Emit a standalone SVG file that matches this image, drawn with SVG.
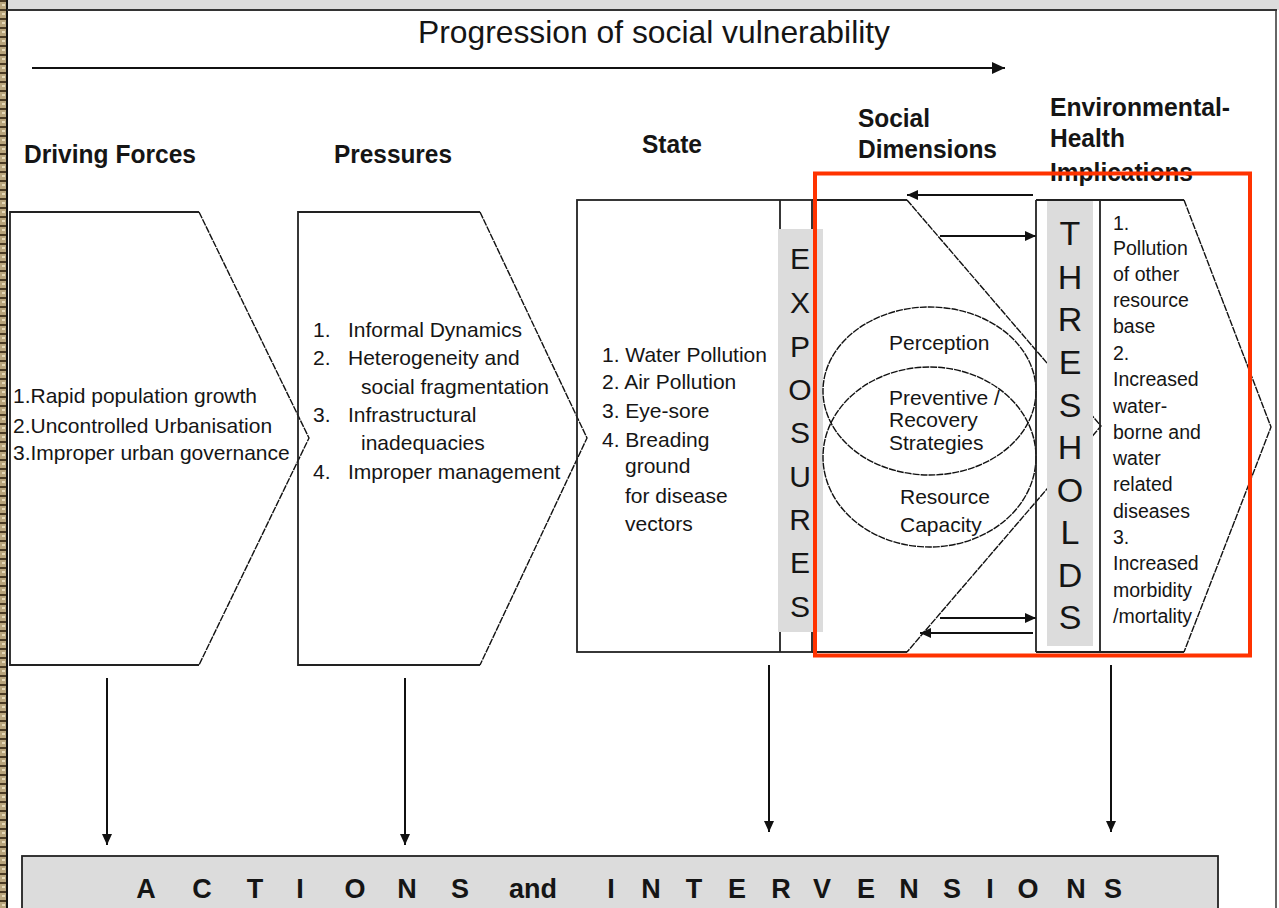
<svg xmlns="http://www.w3.org/2000/svg" width="1279" height="908" viewBox="0 0 1279 908">
<defs>
<style>
.t{font-family:"Liberation Sans",Arial,sans-serif;fill:#151515}
.b{font-weight:bold;font-size:26px}
.n{font-size:21px}
.s{font-size:19.5px}
.ln{fill:none;stroke:#222;stroke-width:1.8}
.dg{fill:none;stroke:#111;stroke-width:1.4;stroke-dasharray:7 1}
.el{fill:none;stroke:#111;stroke-width:1.4;stroke-dasharray:7 1}
.band{fill:#dcdcdc;stroke:none}
.ar{stroke:#111;stroke-width:2;fill:none}
</style>
<marker id="ah" markerUnits="userSpaceOnUse" markerWidth="14" markerHeight="12" refX="13" refY="6" orient="auto">
<path d="M0,0 L13,6 L0,12 z" fill="#111"/>
</marker>
<marker id="ahs" markerUnits="userSpaceOnUse" markerWidth="12" markerHeight="12" refX="11" refY="5" orient="auto">
<path d="M0,0 L11,5 L0,10 z" fill="#111"/>
</marker>
<pattern id="strip" patternUnits="userSpaceOnUse" width="7" height="9">
<rect width="7" height="9" fill="#b9a57c"/>
<rect x="0" y="0" width="7" height="2" fill="#4a3a22"/>
<rect x="2" y="4" width="3" height="2" fill="#e6d9b8"/>
</pattern>
</defs>

<!-- frame -->
<rect x="0" y="0" width="1279" height="908" fill="#fff"/>
<rect x="0" y="0" width="1279" height="10" fill="#dcdcdc"/>
<rect x="0" y="0" width="6" height="908" fill="url(#strip)"/>
<line x1="7" y1="0" x2="7" y2="908" stroke="#111" stroke-width="2"/>
<line x1="7" y1="10" x2="1277" y2="10" stroke="#333" stroke-width="2"/>
<line x1="1276" y1="10" x2="1276" y2="908" stroke="#333" stroke-width="1.5"/>

<!-- title -->
<text class="t" x="418" y="43" font-size="32" textLength="472" lengthAdjust="spacingAndGlyphs">Progression of social vulnerability</text>

<g id="connectors">
<line class="ar" x1="32" y1="68" x2="1005" y2="68" marker-end="url(#ah)"/>
<line class="ar" x1="107" y1="678" x2="107" y2="845" marker-end="url(#ahs)"/>
<line class="ar" x1="405" y1="678" x2="405" y2="845" marker-end="url(#ahs)"/>
<line class="ar" x1="769" y1="665" x2="769" y2="832" marker-end="url(#ahs)"/>
<line class="ar" x1="1111" y1="665" x2="1111" y2="832" marker-end="url(#ahs)"/>
<line class="ar" x1="1033" y1="195" x2="907" y2="195" marker-end="url(#ahs)"/>
<line class="ar" x1="940" y1="236" x2="1036" y2="236" marker-end="url(#ahs)"/>
<line class="ar" x1="940" y1="618" x2="1036" y2="618" marker-end="url(#ahs)"/>
<line class="ar" x1="1033" y1="633" x2="920" y2="633" marker-end="url(#ahs)"/>
</g>

<g id="driving-forces">
<text class="t b" x="24" y="163" textLength="172" lengthAdjust="spacingAndGlyphs">Driving Forces</text>
<path class="ln" d="M199,212 H10 V665 H199"/>
<path class="dg" d="M199,212 L309,438 L199,665"/>
<text class="t n" x="13" y="403">1.Rapid population growth</text>
<text class="t n" x="13" y="433">2.Uncontrolled Urbanisation</text>
<text class="t n" x="13" y="460">3.Improper urban governance</text>
</g>

<g id="pressures">
<text class="t b" x="334" y="163" textLength="118" lengthAdjust="spacingAndGlyphs">Pressures</text>
<path class="ln" d="M480,212 H298 V665 H480"/>
<path class="dg" d="M480,212 L587,438 L480,665"/>
<text class="t n" x="313" y="337">1.</text>
<text class="t n" x="348" y="337">Informal Dynamics</text>
<text class="t n" x="313" y="365">2.</text>
<text class="t n" x="348" y="365">Heterogeneity and</text>
<text class="t n" x="361" y="394">social fragmentation</text>
<text class="t n" x="313" y="422">3.</text>
<text class="t n" x="348" y="422">Infrastructural</text>
<text class="t n" x="361" y="450">inadequacies</text>
<text class="t n" x="313" y="479">4.</text>
<text class="t n" x="348" y="479">Improper management</text>
</g>

<g id="state">
<text class="t b" x="642" y="153" textLength="60" lengthAdjust="spacingAndGlyphs">State</text>
<rect class="ln" x="577" y="200" width="235" height="452"/>
<line class="ln" x1="780" y1="200" x2="780" y2="652"/>
<text class="t n" x="602" y="362">1. Water Pollution</text>
<text class="t n" x="602" y="389">2. Air Pollution</text>
<text class="t n" x="602" y="418">3. Eye-sore</text>
<text class="t n" x="602" y="447">4. Breading</text>
<text class="t n" x="625" y="473">ground</text>
<text class="t n" x="625" y="503">for disease</text>
<text class="t n" x="625" y="531">vectors</text>
</g>

<g id="exposures">
<rect class="band" x="778" y="229" width="45" height="403"/>
<g class="t" font-size="30" text-anchor="middle">
<text x="800" y="269">E</text>
<text x="800" y="313">X</text>
<text x="800" y="357">P</text>
<text x="800" y="400">O</text>
<text x="800" y="443">S</text>
<text x="800" y="487">U</text>
<text x="800" y="530">R</text>
<text x="800" y="573">E</text>
<text x="800" y="617">S</text>
</g>
</g>

<g id="social-dimensions">
<text class="t b" x="858" y="127" textLength="72" lengthAdjust="spacingAndGlyphs">Social</text>
<text class="t b" x="858" y="158" textLength="139" lengthAdjust="spacingAndGlyphs">Dimensions</text>
<path class="ln" d="M812,200 H907 M812,652 H907"/>
<path class="dg" d="M907,200 L1101,426 L907,652"/>
<ellipse class="el" cx="929.5" cy="391" rx="106.5" ry="84"/>
<ellipse class="el" cx="929.5" cy="457" rx="106.5" ry="90"/>
<text class="t n" x="889" y="350">Perception</text>
<text class="t n" x="889" y="405">Preventive /</text>
<text class="t n" x="889" y="427">Recovery</text>
<text class="t n" x="889" y="450">Strategies</text>
<text class="t n" x="900" y="504">Resource</text>
<text class="t n" x="900" y="532">Capacity</text>
</g>

<g id="thresholds">
<rect class="band" x="1047" y="201" width="46" height="445"/>
<path class="ln" d="M1036,200 V652"/>
<g class="t" font-size="34" text-anchor="middle">
<text x="1070" y="245">T</text>
<text x="1070" y="289">H</text>
<text x="1070" y="331">R</text>
<text x="1070" y="374">E</text>
<text x="1070" y="417">S</text>
<text x="1070" y="459">H</text>
<text x="1070" y="502">O</text>
<text x="1070" y="544">L</text>
<text x="1070" y="587">D</text>
<text x="1070" y="629">S</text>
</g>
</g>

<g id="environmental-health">
<text class="t b" x="1050" y="116" textLength="180" lengthAdjust="spacingAndGlyphs">Environmental-</text>
<text class="t b" x="1050" y="147" textLength="75" lengthAdjust="spacingAndGlyphs">Health</text>
<text class="t b" x="1050" y="181" textLength="143" lengthAdjust="spacingAndGlyphs">Implications</text>
<path class="ln" d="M1184,200 H1036 M1184,652 H1036 M1100,200 V652"/>
<path class="dg" d="M1184,200 L1271,427 L1184,652"/>
<text class="t s" x="1113" y="230">1.</text>
<text class="t s" x="1113" y="255">Pollution</text>
<text class="t s" x="1113" y="281">of other</text>
<text class="t s" x="1113" y="307">resource</text>
<text class="t s" x="1113" y="333">base</text>
<text class="t s" x="1113" y="360">2.</text>
<text class="t s" x="1113" y="386">Increased</text>
<text class="t s" x="1113" y="413">water-</text>
<text class="t s" x="1113" y="439">borne and</text>
<text class="t s" x="1113" y="465">water</text>
<text class="t s" x="1113" y="491">related</text>
<text class="t s" x="1113" y="518">diseases</text>
<text class="t s" x="1113" y="544">3.</text>
<text class="t s" x="1113" y="570">Increased</text>
<text class="t s" x="1113" y="597">morbidity</text>
<text class="t s" x="1113" y="623">/mortality</text>
</g>

<rect id="highlight" x="815" y="173.5" width="435" height="482" fill="none" stroke="#ff3300" stroke-width="4"/>

<g id="actions-interventions">
<rect x="22" y="856" width="1196" height="60" fill="#dcdcdc" stroke="#222" stroke-width="1.8"/>
<g class="t" font-size="27" font-weight="bold" text-anchor="middle">
<text x="146" y="898">A</text>
<text x="202" y="898">C</text>
<text x="255" y="898">T</text>
<text x="300" y="898">I</text>
<text x="355" y="898">O</text>
<text x="407" y="898">N</text>
<text x="460" y="898">S</text>
<text x="533" y="898">and</text>
<text x="611" y="898">I</text>
<text x="651" y="898">N</text>
<text x="694" y="898">T</text>
<text x="737" y="898">E</text>
<text x="781" y="898">R</text>
<text x="822" y="898">V</text>
<text x="866" y="898">E</text>
<text x="909" y="898">N</text>
<text x="952" y="898">S</text>
<text x="990" y="898">I</text>
<text x="1028" y="898">O</text>
<text x="1076" y="898">N</text>
<text x="1113" y="898">S</text>
</g>
</g>
</svg>
